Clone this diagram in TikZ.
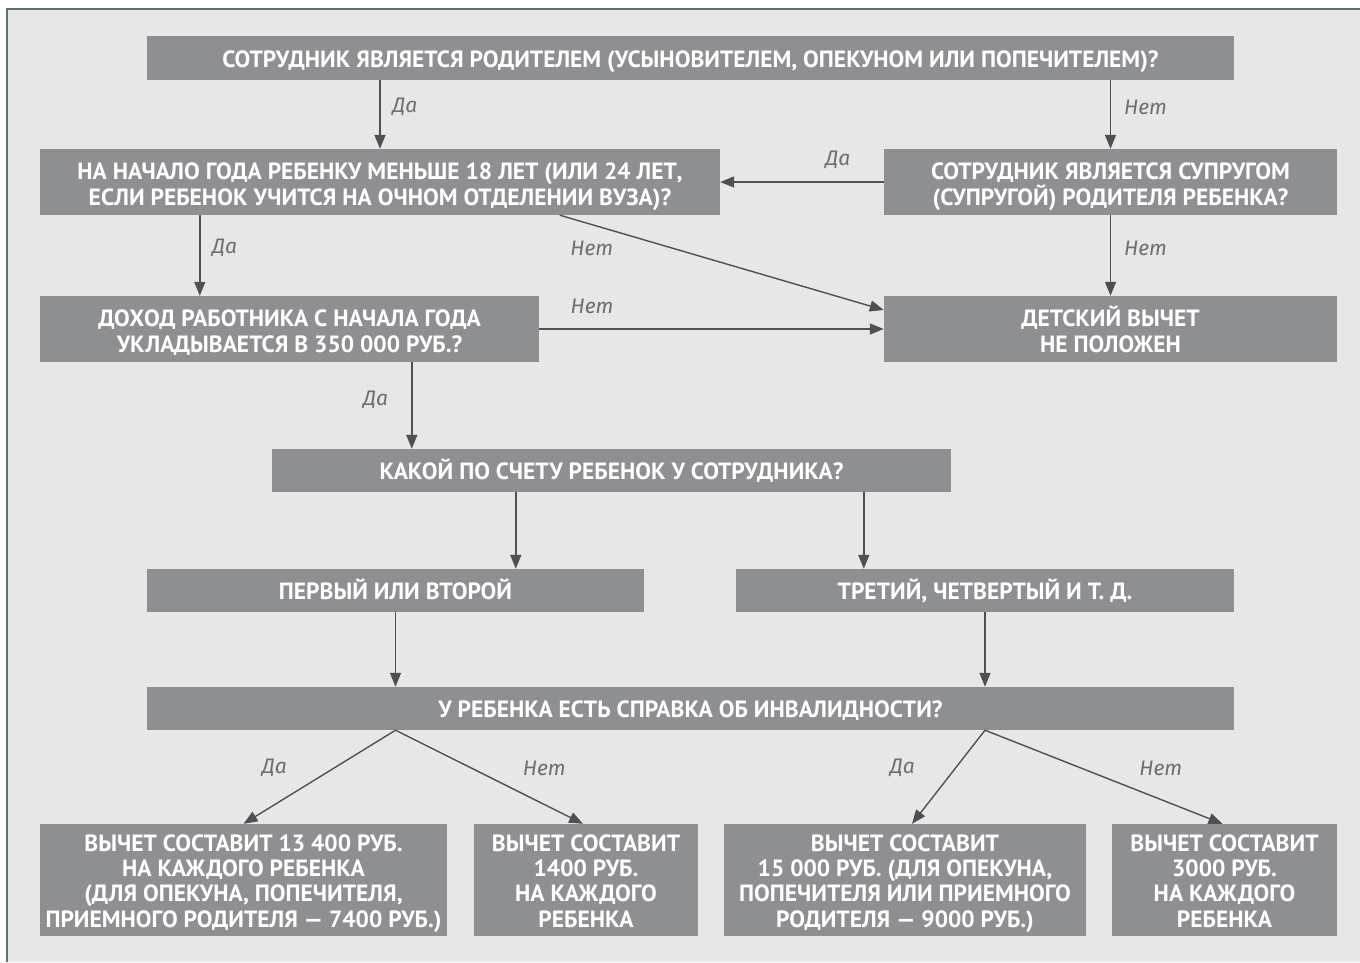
\documentclass[tikz,border=0pt]{standalone}
\usepackage{fontspec}
\usetikzlibrary{arrows.meta,positioning,calc}
\newfontfamily\boxfont[FakeStretch=1.0, BoldFont={PT Sans Bold}]{PT Sans}
\newfontfamily\lblfont{Fira Sans}
\definecolor{PANEL-GRAY}{RGB}{231,231,231}
\definecolor{PANEL-EDGE}{RGB}{96,112,112}
\definecolor{BOX-GRAY}{RGB}{142,143,147}
\definecolor{ARROW-GRAY}{RGB}{80,80,84}
\definecolor{LABEL-GRAY}{RGB}{110,110,113}

\tikzset{
  box/.style={fill=BOX-GRAY, text=white, align=center, inner sep=0pt,
    font=\boxfont\bfseries\fontsize{23.5}{25.3}\selectfont},
  box1/.style={box, text height=18.4pt, text depth=0pt},
  box2/.style={box, text height=46.4pt, text depth=0pt},
  box4/.style={box, text height=94.4pt, text depth=0pt},
  arr/.style={draw=ARROW-GRAY, line width=1.4pt, -{Triangle[length=14pt,width=11pt]}},
  lbl/.style={text=LABEL-GRAY, font=\lblfont\itshape\fontsize{21}{24}\selectfont, inner sep=0pt}
}

\begin{document}
\begin{tikzpicture}[x=1pt, y=-1pt]
  \useasboundingbox (0,0) rectangle (1360,962);
  % Background panel
  \fill[PANEL-GRAY] (7,9) rectangle (1360,962);
  \draw[PANEL-EDGE, line width=1.5pt] (7,962) -- (7,9) -- (1360,9);

  % Question boxes
  \node[box1, minimum width=1087, minimum height=44] (parent) at (690.5,58)
    {СОТРУДНИК ЯВЛЯЕТСЯ РОДИТЕЛЕМ (УСЫНОВИТЕЛЕМ, ОПЕКУНОМ ИЛИ ПОПЕЧИТЕЛЕМ)?};
  \node[box2, minimum width=680, minimum height=66] (age) at (380,182)
    {НА НАЧАЛО ГОДА РЕБЕНКУ МЕНЬШЕ 18 ЛЕТ (ИЛИ 24 ЛЕТ,\\ЕСЛИ РЕБЕНОК УЧИТСЯ НА ОЧНОМ ОТДЕЛЕНИИ ВУЗА)?};
  \node[box2, minimum width=453, minimum height=66] (spouse) at (1110.5,182)
    {СОТРУДНИК ЯВЛЯЕТСЯ СУПРУГОМ\\(СУПРУГОЙ) РОДИТЕЛЯ РЕБЕНКА?};
  \node[box2, minimum width=499, minimum height=66] (income) at (289.5,329)
    {ДОХОД РАБОТНИКА С НАЧАЛА ГОДА\\УКЛАДЫВАЕТСЯ В 350 000 РУБ.?};
  \node[box2, minimum width=453, minimum height=66] (none) at (1110.5,329)
    {ДЕТСКИЙ ВЫЧЕТ\\НЕ ПОЛОЖЕН};
  \node[box1, minimum width=679, minimum height=43] (order) at (611.5,470.5)
    {КАКОЙ ПО СЧЕТУ РЕБЕНОК У СОТРУДНИКА?};
  \node[box1, minimum width=497, minimum height=43] (first) at (395.5,590.5)
    {ПЕРВЫЙ ИЛИ ВТОРОЙ};
  \node[box1, minimum width=498, minimum height=43] (third) at (985,590.5)
    {ТРЕТИЙ, ЧЕТВЕРТЫЙ И Т. Д.};
  \node[box1, minimum width=1087, minimum height=43] (disab) at (690.5,708.5)
    {У РЕБЕНКА ЕСТЬ СПРАВКА ОБ ИНВАЛИДНОСТИ?};

  % Result boxes
  \node[box4, minimum width=407, minimum height=112] (resA) at (243.5,880)
    {ВЫЧЕТ СОСТАВИТ 13 400 РУБ.\\НА КАЖДОГО РЕБЕНКА\\(ДЛЯ ОПЕКУНА, ПОПЕЧИТЕЛЯ,\\ПРИЕМНОГО РОДИТЕЛЯ — 7400 РУБ.)};
  \node[box4, minimum width=224, minimum height=112] (resB) at (586,880)
    {ВЫЧЕТ СОСТАВИТ\\1400 РУБ.\\НА КАЖДОГО\\РЕБЕНКА};
  \node[box4, minimum width=362, minimum height=112] (resC) at (905,880)
    {ВЫЧЕТ СОСТАВИТ\\15 000 РУБ. (ДЛЯ ОПЕКУНА,\\ПОПЕЧИТЕЛЯ ИЛИ ПРИЕМНОГО\\РОДИТЕЛЯ — 9000 РУБ.)};
  \node[box4, minimum width=225, minimum height=112] (resD) at (1224.5,880)
    {ВЫЧЕТ СОСТАВИТ\\3000 РУБ.\\НА КАЖДОГО\\РЕБЕНКА};

  % Connectors
  \draw[arr] (parent.south -| age.north) -- node[lbl, xshift=25pt, yshift=7.5pt] {Да} (age.north);
  \draw[arr] (parent.south -| spouse.north) -- node[lbl, xshift=35pt, yshift=7.5pt] {Нет} (spouse.north);
  \draw[arr] (spouse.west) -- node[lbl, xshift=36pt, yshift=22pt] {Да} (age.east);
  \draw[arr] ([xshift=160pt]age.south west) -- node[lbl, xshift=25pt, yshift=7.5pt] {Да} ([xshift=160pt]income.north west);
  \draw[arr] ([xshift=520pt]age.south west) -- node[lbl, xshift=-130pt, yshift=14.5pt] {Нет} ([yshift=19pt]none.west);
  \draw[arr] (spouse.south) -- node[lbl, xshift=35pt, yshift=7.5pt] {Нет} (none.north);
  \draw[arr] (income.east) -- node[lbl, xshift=-119.5pt, yshift=23pt] {Нет} (none.west);
  \draw[arr] ([xshift=372pt]income.south west) -- node[lbl, xshift=-36pt, yshift=5.5pt] {Да} ([xshift=140pt]order.north west);
  \draw[arr] ([xshift=244pt]order.south west) -- ([xshift=244pt]order.south west |- first.north);
  \draw[arr] ([xshift=128pt]third.north west |- order.south) -- ([xshift=128pt]third.north west);
  \draw[arr] (first.south) -- (first.south |- disab.north);
  \draw[arr] (third.south) -- (third.south |- disab.north);
  \draw[arr] (disab.south -| first.south) -- node[lbl, xshift=-45pt, yshift=9pt] {Да} (resA.north);
  \draw[arr] (disab.south -| first.south) -- node[lbl, xshift=55pt, yshift=9pt] {Нет} ([xshift=-3pt]resB.north);
  \draw[arr] (disab.south -| third.south) -- node[lbl, xshift=-46pt, yshift=9pt] {Да} ([xshift=7pt]resC.north);
  \draw[arr] (disab.south -| third.south) -- node[lbl, xshift=57pt, yshift=9pt] {Нет} ([xshift=-2pt]resD.north);
\end{tikzpicture}
\end{document}
